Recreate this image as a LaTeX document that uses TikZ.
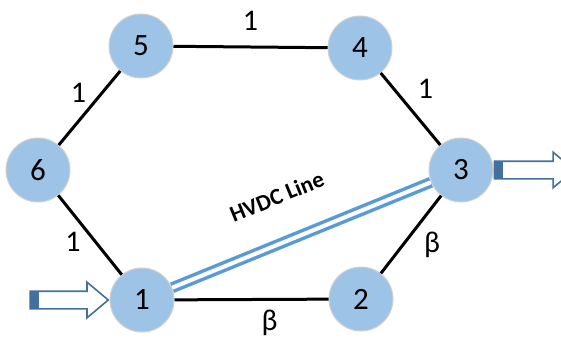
\documentclass[tikz,border=0pt]{standalone}
\usepackage{fontspec}
\setmainfont{Carlito}
\usetikzlibrary{shapes.arrows}
\definecolor{busblue}{RGB}{157,195,230}
\definecolor{hvdcblue}{RGB}{91,155,213}
\definecolor{arrowblue}{RGB}{65,113,156}
\tikzset{
  bus/.style={circle, fill=busblue, draw=black!18, line width=1pt, minimum size=64pt, inner sep=0pt, font=\fontsize{31}{31}\selectfont},
  link/.style={line width=3pt},
  weight/.style={font=\fontsize{30}{30}\selectfont, inner sep=0pt},
  hvdc/.style={draw=hvdcblue, line width=3.5pt, double=white, double distance=4pt},
  power/.style={single arrow, draw=arrowblue, line width=1.6pt, fill=white,
    inner xsep=0pt, inner ysep=8pt, single arrow head extend=9pt, single arrow tip angle=80,
    path picture={\fill[arrowblue] (path picture bounding box.south west) rectangle ([xshift=9pt]path picture bounding box.north west);}}
}

\begin{document}
\begin{tikzpicture}[x=1pt, y=-1pt]
  \clip (0,0) rectangle (561,339);
  % buses
  \foreach \n/\x/\y in {1/142/300, 2/361/299, 3/461/170, 4/360/48, 5/141/46, 6/38/170}
    \node[bus] (b\n) at (\x,\y) {\n};
  % AC lines
  \draw[link] (b5) -- (b4) node[weight, midway, yshift=26pt] {1};
  \draw[link] (b5) -- (b6) node[weight, midway, xshift=-11pt, yshift=15pt] {1};
  \draw[link] (b4) -- (b3) node[weight, midway, xshift=15pt, yshift=20pt] {1};
  \draw[link] (b6) -- (b1) node[weight, midway, xshift=-17pt, yshift=-7pt] {1};
  \draw[link] (b3) -- (b2) node[weight, midway, xshift=21pt, yshift=-10pt] {β};
  \draw[link] (b1) -- (b2) node[weight, midway, xshift=18pt, yshift=-23pt] {β};
  % DC link
  \draw[hvdc] (b1) -- (b3)
    node[pos=0.47, sloped, yshift=45pt, font=\fontsize{23}{23}\selectfont\bfseries] {HVDC Line};
  % injection and withdrawal
  \node[power, anchor=tip, minimum height=78pt] (pin) at (b1.west) {};
  \node[power, anchor=tail, minimum height=80pt] (pout) at (b3.east) {};
\end{tikzpicture}
\end{document}
